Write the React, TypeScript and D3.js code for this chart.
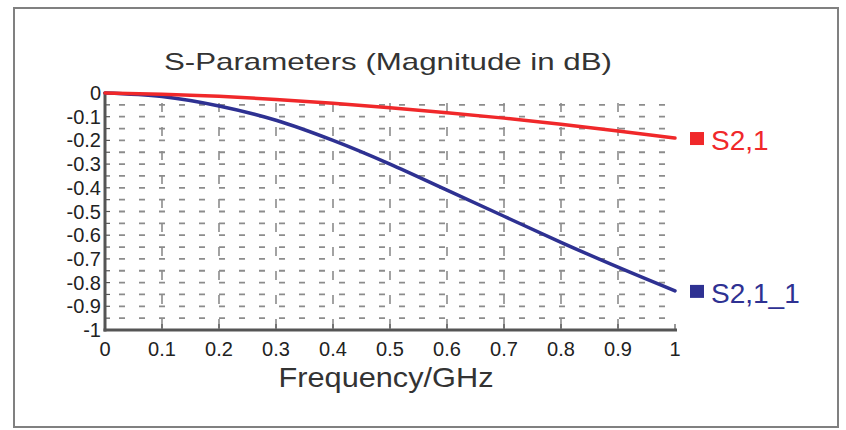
import React, { useEffect, useRef } from "react";
import * as d3 from "d3";

// frequency points (GHz)
const freq = [0, 0.1, 0.2, 0.3, 0.4, 0.5, 0.6, 0.7, 0.8, 0.9, 1.0];
// S2,1 magnitude (dB)
const s21 = [0, -0.005, -0.014, -0.027, -0.043, -0.062, -0.083, -0.106, -0.132, -0.16, -0.19];
// S2,1_1 magnitude (dB)
const s21b = [0, -0.015, -0.055, -0.115, -0.2, -0.3, -0.41, -0.52, -0.63, -0.735, -0.835];

const xTicks = [0, 0.1, 0.2, 0.3, 0.4, 0.5, 0.6, 0.7, 0.8, 0.9, 1];
const yTicks = [0, -0.1, -0.2, -0.3, -0.4, -0.5, -0.6, -0.7, -0.8, -0.9, -1];

const seriesNames = ["S2,1", "S2,1_1"];
const seriesColors = ["#f0282a", "#2e3192"];

export default function App() {
  const ref = useRef<SVGSVGElement>(null);

  useEffect(() => {
    const svg = d3.select(ref.current);
    svg.selectAll("*").remove();

    const x = d3.scaleLinear().domain([0, 1]).range([105, 675]);
    const y = d3.scaleLinear().domain([0, -1]).range([93, 330]);
    const font = "Liberation Sans, Arial, sans-serif";

    // outer frame
    svg.append("rect")
      .attr("x", 14).attr("y", 8).attr("width", 824).attr("height", 419)
      .attr("fill", "white").attr("stroke", "#808080").attr("stroke-width", 2);

    // title
    svg.append("text")
      .attr("x", 388).attr("y", 70)
      .attr("text-anchor", "middle")
      .attr("font-family", font).attr("font-size", 24)
      .attr("textLength", 448).attr("lengthAdjust", "spacingAndGlyphs")
      .attr("fill", "#333")
      .text("S-Parameters (Magnitude in dB)");

    const grid = svg.append("g");
    // horizontal dashed rows every 0.05
    grid.selectAll("line.h")
      .data(d3.range(1, 20).map((i) => -i * 0.05))
      .join("line")
      .attr("x1", x(0) + 14).attr("x2", x(1))
      .attr("y1", (d) => y(d)).attr("y2", (d) => y(d))
      .attr("stroke", "#8c8c8c").attr("stroke-width", 1.8)
      .attr("stroke-dasharray", "6,14");
    // vertical dashed lines at each 0.1
    grid.selectAll("line.v")
      .data(xTicks.slice(1, 10))
      .join("line")
      .attr("x1", (d) => x(d)).attr("x2", (d) => x(d))
      .attr("y1", y(0) + 10).attr("y2", y(-1))
      .attr("stroke", "#8c8c8c").attr("stroke-width", 1.6)
      .attr("stroke-dasharray", "9,15");

    // axes
    const axisColor = "#555";
    svg.append("line")
      .attr("x1", x(0)).attr("x2", x(0)).attr("y1", y(0) - 1).attr("y2", y(-1) + 1.5)
      .attr("stroke", axisColor).attr("stroke-width", 3);
    svg.append("line")
      .attr("x1", x(0) - 1.5).attr("x2", x(1) + 2).attr("y1", y(-1)).attr("y2", y(-1))
      .attr("stroke", axisColor).attr("stroke-width", 3);

    // minor ticks on y axis
    svg.append("g").selectAll("line")
      .data(d3.range(0, 21).map((i) => -i * 0.05))
      .join("line")
      .attr("x1", x(0)).attr("x2", x(0) + 5)
      .attr("y1", (d) => y(d)).attr("y2", (d) => y(d))
      .attr("stroke", axisColor).attr("stroke-width", 1.2);
    // ticks on x axis
    svg.append("g").selectAll("line")
      .data(xTicks)
      .join("line")
      .attr("x1", (d) => x(d)).attr("x2", (d) => x(d))
      .attr("y1", y(-1)).attr("y2", y(-1) - 6)
      .attr("stroke", axisColor).attr("stroke-width", 1.2);

    const label = (d: number) => String(+d.toFixed(1));

    // y tick labels
    svg.append("g").selectAll("text")
      .data(yTicks)
      .join("text")
      .attr("x", 101).attr("y", (d) => y(d) + 7)
      .attr("text-anchor", "end")
      .attr("font-family", font).attr("font-size", 20)
      .attr("fill", "#222")
      .text(label);

    // x tick labels
    svg.append("g").selectAll("text")
      .data(xTicks)
      .join("text")
      .attr("x", (d) => x(d)).attr("y", 356)
      .attr("text-anchor", "middle")
      .attr("font-family", font).attr("font-size", 20)
      .attr("fill", "#222")
      .text(label);

    // x axis title
    svg.append("text")
      .attr("x", 386).attr("y", 387)
      .attr("text-anchor", "middle")
      .attr("font-family", font).attr("font-size", 28)
      .attr("textLength", 215).attr("lengthAdjust", "spacingAndGlyphs")
      .attr("fill", "#333")
      .text("Frequency/GHz");

    // series lines
    const line = d3.line<number>()
      .x((_, i) => x(freq[i]))
      .y((d) => y(d))
      .curve(d3.curveMonotoneX);
    [s21b, s21].forEach((vals, k) => {
      const idx = k === 0 ? 1 : 0;
      svg.append("path")
        .attr("d", line(vals))
        .attr("fill", "none")
        .attr("stroke", seriesColors[idx])
        .attr("stroke-width", 3.5)
        .attr("stroke-linecap", "round");
    });

    // legend labels at line ends
    const ends = [s21[s21.length - 1], s21b[s21b.length - 1]];
    seriesNames.forEach((name, i) => {
      const yy = y(ends[i]) + 1;
      svg.append("rect")
        .attr("x", 690).attr("y", yy - 7).attr("width", 14).attr("height", 13)
        .attr("fill", seriesColors[i]);
      svg.append("text")
        .attr("x", 711).attr("y", yy + 11)
        .attr("font-family", font).attr("font-size", 28)
        .attr("fill", seriesColors[i])
        .text(name);
    });
  }, []);

  return (
    <svg
      ref={ref}
      width={846}
      height={430}
      style={{ position: "absolute", left: 0, top: 0, background: "white" }}
    />
  );
}
